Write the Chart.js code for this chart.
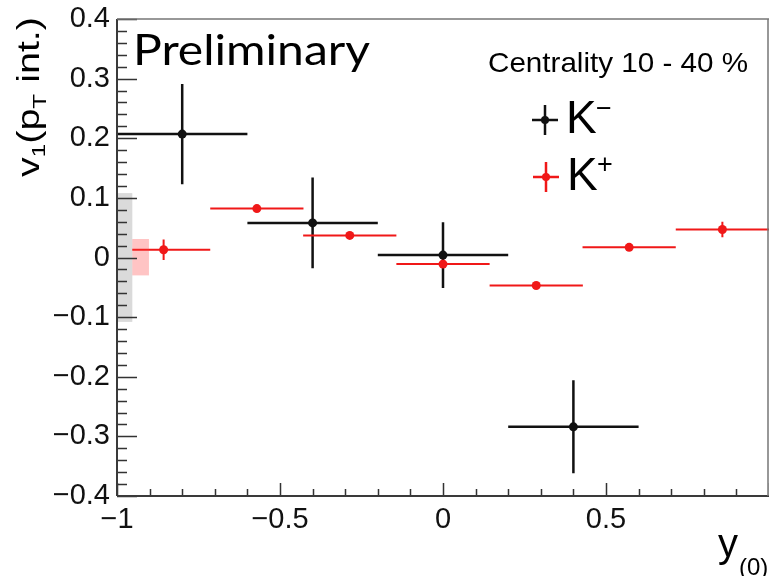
<!DOCTYPE html>
<html>
<head>
<meta charset="utf-8">
<script src="https://cdn.jsdelivr.net/npm/chart.js@4.4.1/dist/chart.umd.min.js"></script>
<style>
  html, body { margin: 0; padding: 0; background: #fff; }
  #wrap { position: relative; width: 769px; height: 576px; overflow: hidden; }
</style>
</head>
<body>
<div id="wrap"><canvas id="v1Chart" width="769" height="576"></canvas></div>
<script>
// ── Data ──────────────────────────────────────────────────────────────────
// K− : bins of width 0.4 in y(0)
const kmRap   = [-0.8, -0.4, 0.0, 0.4];
const kmV1    = [0.207, 0.058, 0.004, -0.284];
const kmHalfW = [0.2, 0.2, 0.2, 0.2];
const kmStat  = [0.084, 0.076, 0.055, 0.078];

// K+ : seven bins of width 2/7
const kpRap   = [-0.857, -0.571, -0.286, 0.0, 0.286, 0.571, 0.857];
const kpV1    = [0.013, 0.082, 0.037, -0.011, -0.047, 0.017, 0.047];
const kpHalfW = [0.143, 0.143, 0.143, 0.143, 0.143, 0.143, 0.143];
const kpStat  = [0.017, 0.004, 0.004, 0.005, 0.004, 0.004, 0.013];

// global systematic uncertainty (low, high)
const kmSys = [-0.108, 0.108];
const kpSys = [-0.030, 0.031];

const yTicks = [-0.4, -0.3, -0.2, -0.1, 0, 0.1, 0.2, 0.3, 0.4];
const xTicks = [-1, -0.5, 0, 0.5, 1];

const BLACK = '#111';
const RED   = 'rgb(240,24,24)';
const SANS  = '"Liberation Sans", Arial, Helvetica, sans-serif';

const minus = v => (v < 0 ? '\u2212' : '') + Math.abs(v);
const fmtY  = v => v === 0 ? '0' : minus(+v.toFixed(1)).replace(/^(\u2212?)(\d)$/, '$1$2.0');

// ── Plugins ───────────────────────────────────────────────────────────────

// cross-shaped error bars, drawn under the markers
const errorBars = {
  id: 'errorBars',
  beforeDatasetsDraw(chart) {
    const { ctx, scales: { x, y } } = chart;
    ctx.save();
    chart.data.datasets.forEach(ds => {
      ctx.strokeStyle = ds.borderColor;
      ctx.lineWidth = ds.errWidth;
      ds.data.forEach((p, i) => {
        const px = x.getPixelForValue(p.x), py = y.getPixelForValue(p.y);
        ctx.beginPath();
        ctx.moveTo(x.getPixelForValue(p.x - ds.halfW[i]), py);
        ctx.lineTo(x.getPixelForValue(p.x + ds.halfW[i]), py);
        ctx.moveTo(px, y.getPixelForValue(p.y - ds.stat[i]));
        ctx.lineTo(px, y.getPixelForValue(p.y + ds.stat[i]));
        ctx.stroke();
      });
    });
    ctx.restore();
  },
};

// systematic boxes at the left edge
const sysBoxes = {
  id: 'sysBoxes',
  afterDatasetsDraw(chart) {
    const { ctx, scales: { x, y } } = chart;
    const box = (x0, x1, [lo, hi], fill) => {
      const l = x.getPixelForValue(x0), r = x.getPixelForValue(x1);
      const t = y.getPixelForValue(hi), b = y.getPixelForValue(lo);
      ctx.fillStyle = fill;
      ctx.fillRect(l, t, r - l, b - t);
    };
    ctx.save();
    box(-1.0, -0.953, kmSys, 'rgb(218,218,218)');
    box(-0.953, -0.902, kpSys, 'rgba(255,60,60,0.3)');
    ctx.restore();
  },
};

// ROOT-style frame with inward major / minor ticks
const frameTicks = {
  id: 'frameTicks',
  afterDraw(chart) {
    const { ctx, chartArea: a, scales: { x, y } } = chart;
    const seg = (x0, y0, x1, y1) => { ctx.moveTo(x0, y0); ctx.lineTo(x1, y1); };
    ctx.save();
    ctx.strokeStyle = '#333';
    ctx.lineWidth = 1.5;
    ctx.beginPath();
    for (let i = -20; i <= 20; i++) {
      const py = Math.round(y.getPixelForValue(i * 0.02)) + 0.5;
      seg(a.left, py, a.left + (i % 5 === 0 ? 20 : 10), py);
    }
    for (let i = -10; i <= 10; i++) {
      const px = Math.round(x.getPixelForValue(i * 0.1)) + 0.5;
      seg(px, a.bottom, px, a.bottom - (i % 5 === 0 ? 13 : 7));
    }
    ctx.stroke();
    ctx.lineWidth = 2;
    ctx.strokeStyle = '#3a3a3a';
    ctx.beginPath();
    seg(a.left, a.top, a.left, a.bottom);
    seg(a.left, a.bottom, a.right, a.bottom);
    ctx.stroke();
    ctx.strokeStyle = '#777';
    ctx.lineWidth = 1.5;
    ctx.beginPath();
    seg(a.left, a.top, a.right, a.top);
    seg(a.right - 1, a.top, a.right - 1, a.bottom);
    ctx.stroke();
    ctx.restore();
  },
};

// text blocks: label, centrality, legend, axis titles
const annotations = {
  id: 'annotations',
  afterDraw(chart) {
    const { ctx } = chart;
    const fitText = (txt, x, yb, font, width) => {
      ctx.font = font;
      const w = ctx.measureText(txt).width;
      ctx.save();
      ctx.translate(x, yb);
      ctx.scale(width / w, 1);
      ctx.fillText(txt, 0, 0);
      ctx.restore();
    };
    // run of [text, size, baselineShift] pieces written left to right
    const run = (parts, family) => {
      let w = 0;
      parts.forEach(([t, s]) => { ctx.font = `${s}px ${family}`; w += ctx.measureText(t).width; });
      return w;
    };
    const drawRun = (parts, family) => {
      let cx = 0;
      parts.forEach(([t, s, dy]) => {
        ctx.font = `${s}px ${family}`;
        ctx.fillText(t, cx, dy);
        cx += ctx.measureText(t).width;
      });
    };

    ctx.save();
    ctx.fillStyle = '#000';
    ctx.textBaseline = 'alphabetic';
    ctx.textAlign = 'left';

    fitText('Preliminary', 133, 65, '43px Lato, "Open Sans", sans-serif', 237);

    fitText('Centrality 10 - 40 %', 488, 72, `28px ${SANS}`, 260);

    // legend
    const legendRow = (cx, cy, color, sup, supY) => {
      ctx.strokeStyle = color;
      ctx.lineWidth = 2.5;
      ctx.beginPath();
      ctx.moveTo(cx - 13, cy); ctx.lineTo(cx + 13, cy);
      ctx.moveTo(cx, cy - 15); ctx.lineTo(cx, cy + 15);
      ctx.stroke();
      ctx.fillStyle = color;
      ctx.beginPath(); ctx.arc(cx, cy, 4, 0, Math.PI * 2); ctx.fill();
      ctx.fillStyle = '#000';
      ctx.font = `46px ${SANS}`;
      ctx.fillText('K', cx + 21, cy + 13);
      ctx.font = `27px ${SANS}`;
      ctx.fillText(sup, cx + 51, supY);
    };
    legendRow(545, 120, BLACK, '\u2212', 117);
    legendRow(546, 177, RED, '+', 173);

    // y-axis title, rotated
    const yParts = [['v', 31, 0], ['1', 19, 6], ['(p', 31, 0], ['T', 19, 7], [' int.)', 31, 0]];
    ctx.save();
    ctx.translate(39, 177);
    ctx.rotate(-Math.PI / 2);
    ctx.scale(160 / run(yParts, SANS), 1);
    drawRun(yParts, SANS);
    ctx.restore();

    // x-axis title
    ctx.font = `40px ${SANS}`;
    ctx.fillText('y', 718, 557);
    ctx.font = `24px ${SANS}`;
    ctx.fillText('(0)', 739, 575);

    ctx.restore();
  },
};

// ── Chart ─────────────────────────────────────────────────────────────────

const toPoints = (xs, ys) => xs.map((x, i) => ({ x, y: ys[i] }));

new Chart(document.getElementById('v1Chart'), {
  type: 'scatter',
  data: {
    datasets: [
      {
        label: 'K\u2212',
        data: toPoints(kmRap, kmV1),
        halfW: kmHalfW, stat: kmStat, errWidth: 2.5,
        backgroundColor: BLACK, borderColor: BLACK,
        pointRadius: 4.5, pointHoverRadius: 4.5, borderWidth: 0,
      },
      {
        label: 'K+',
        data: toPoints(kpRap, kpV1),
        halfW: kpHalfW, stat: kpStat, errWidth: 2,
        backgroundColor: RED, borderColor: RED,
        pointRadius: 4.5, pointHoverRadius: 4.5, borderWidth: 0,
      },
    ],
  },
  options: {
    responsive: false, animation: false, events: [],
    layout: { autoPadding: false, padding: { top: 19, right: 0, left: 0, bottom: 0 } },
    plugins: { legend: { display: false }, tooltip: { enabled: false } },
    scales: {
      x: {
        type: 'linear', min: -1, max: 1,
        afterFit: s => { s.height = 80; s.paddingLeft = 0; s.paddingRight = 0; },
        afterBuildTicks: s => { s.ticks = xTicks.map(value => ({ value })); },
        grid: { display: false, drawTicks: false }, border: { display: false },
        ticks: {
          autoSkip: false, maxRotation: 0, padding: 7, color: BLACK,
          font: { family: SANS, size: 29 },
          callback: v => v >= 1 ? '' : minus(v),
        },
      },
      y: {
        type: 'linear', min: -0.4, max: 0.4,
        afterFit: s => { s.width = 117; s.paddingTop = 0; s.paddingBottom = 0; },
        afterBuildTicks: s => { s.ticks = yTicks.map(value => ({ value })); },
        grid: { display: false, drawTicks: false }, border: { display: false },
        ticks: {
          autoSkip: false, padding: 7, color: BLACK,
          font: { family: SANS, size: 29 },
          callback: v => fmtY(v),
        },
      },
    },
  },
  plugins: [errorBars, sysBoxes, frameTicks, annotations],
});
</script>
</body>
</html>
